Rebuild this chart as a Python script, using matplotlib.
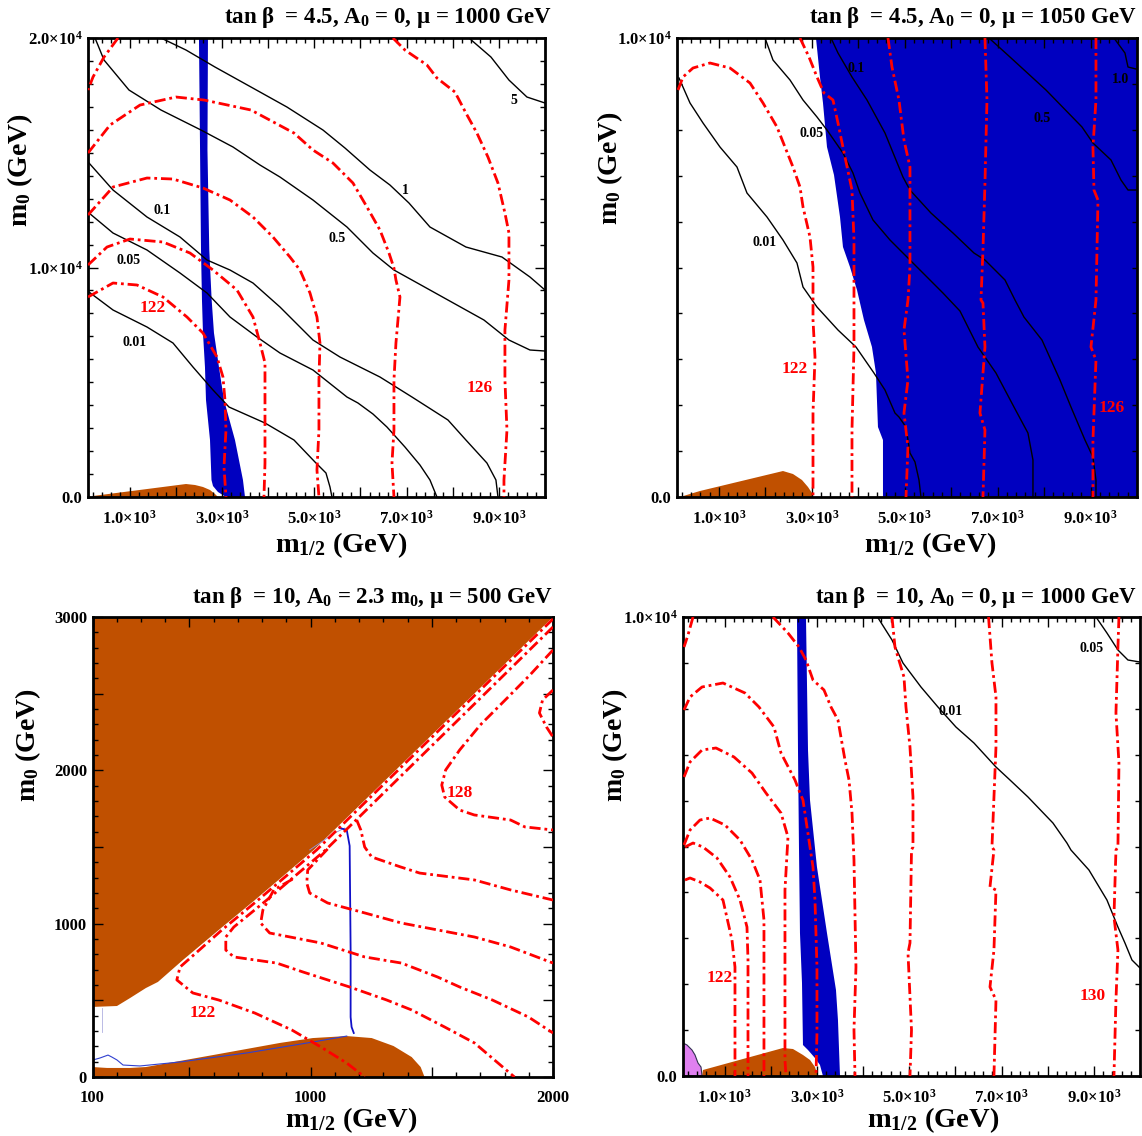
import matplotlib
matplotlib.use("Agg")
import matplotlib.pyplot as plt
import numpy as np

plt.rcParams['font.family'] = ['Liberation Serif', 'DejaVu Serif']
plt.rcParams['font.weight'] = 'bold'
plt.rcParams['mathtext.fontset'] = 'custom'
plt.rcParams['mathtext.rm'] = 'Liberation Serif:bold'
plt.rcParams['mathtext.it'] = 'Liberation Serif:bold'
plt.rcParams['mathtext.bf'] = 'Liberation Serif:bold'

BLUE = '#0000C0'
BROWN = '#C05000'
VIOLET = '#E080F0'
RED = '#FF0000'

# ---------------- Panel 1 : tan b = 4.5, A0 = 0, mu = 1000 GeV ----------------
p1_blue = [(2504, 20000), (2548, 10762), (2569, 8583), (2591, 7145), (2634, 5664), (2656, 4226),
           (2743, 2483), (2775, 741), (2808, 479), (2916, 218), (3089, 0), (3501, 0), (3457, 741),
           (3284, 2483), (3046, 4226), (2937, 5664), (2829, 7145), (2779, 8583), (2727, 10762),
           (2688, 15119), (2699, 20000)]
p1_brown = [(187, 0), (208, 44), (2223, 566), (2418, 523), (2591, 436), (2743, 305), (2851, 131), (2916, 0)]
p1_black = {
    '5': [(8353, 20000), (8829, 19171), (9219, 18168), (9609, 17428), (10000, 17167)],
    '1': [(1681, 20000), (2223, 19476), (2851, 18735), (3631, 17864), (4410, 16992), (5190, 15990),
          (5667, 15206), (6208, 14247), (6641, 13594), (7053, 12810), (7508, 11764), (8287, 10893),
          (9067, 10457), (9674, 9586), (10000, 9019)],
    '0.5': [(252, 20000), (447, 19040), (988, 17733), (1681, 16862), (2548, 15990), (3241, 15250),
            (3826, 14465), (4259, 13942), (4974, 12940), (5710, 11764), (6273, 10631), (6728, 9890),
            (7118, 9455), (7898, 8583), (8677, 7712), (9219, 6840), (9674, 6405), (10000, 6361)],
    '0.1': [(122, 14552), (642, 13376), (1378, 12200), (2093, 11328), (2678, 10326), (3176, 9890),
            (3674, 9324), (4259, 8278), (4974, 6840), (5558, 6100), (6425, 5228), (7118, 4357),
            (7898, 3355), (8287, 2483), (8742, 1481), (8937, 741), (8981, 0)],
    '0.05': [(122, 12374), (642, 11502), (1378, 10762), (2093, 9760), (2678, 8888), (3176, 7843),
             (3761, 6971), (4259, 6274), (4974, 5533), (5710, 4357), (5948, 4096), (6273, 3616),
             (6576, 3050), (6966, 2179), (7291, 1394), (7508, 741), (7659, 0)],
    '0.01': [(122, 8932), (642, 8148), (1378, 7407), (1941, 6710), (2374, 5664), (2808, 4662),
             (3154, 3921), (3934, 3224), (4562, 2483), (5017, 1525), (5255, 1046), (5342, 436), (5385, 0)],
}
p1_black_lab = {'5': (9327, 17297), '1': (6966, 13376), '0.5': (5493, 11285), '0.1': (1703, 12505),
                '0.05': (988, 10326), '0.01': (1118, 6753)}
p1_red = [
    [(750, 20000), (447, 19171), (208, 18299), (100, 17733)],
    [(100, 14988), (577, 16208), (1227, 17079), (2006, 17428), (2613, 17297), (3631, 16862), (4562, 15859),
     (4974, 15119), (5407, 14552), (5840, 13681), (6143, 12636), (6425, 11633), (6620, 10631), (6728, 9978),
     (6771, 9455), (6858, 8714), (6771, 6710), (6728, 5098), (6728, 2919), (6685, 1481), (6728, 0)],
    [(100, 12287), (642, 13507), (1378, 13899), (1941, 13855), (2591, 13463), (3176, 12940), (3674, 12200),
     (4107, 11328), (4475, 10457), (4692, 9890), (4909, 8888), (5060, 7843), (5125, 6710), (5103, 5098),
     (5103, 2919), (5060, 1176), (5103, 0)],
    [(100, 10108), (512, 10893), (1010, 11241), (1725, 11110), (2309, 10631), (2808, 9890), (3327, 9019),
     (3674, 7843), (3826, 6710), (3934, 5838), (3934, 3660), (3934, 1481), (3912, 0)],
    [(100, 8714), (642, 9324), (1161, 9237), (1725, 8714), (2244, 7843), (2591, 7145), (2894, 6100),
     (3024, 5228), (3067, 4226), (3089, 2919), (3046, 1307), (3089, 0)],
    [(6706, 20000), (6966, 19476), (7443, 18822), (7659, 18256), (8049, 17646), (8287, 16731), (8525, 15859),
     (8764, 14814), (8981, 13681), (9132, 12374), (9219, 11502), (9219, 9978), (9219, 9455), (9132, 7276),
     (9132, 5098), (9176, 2919), (9111, 741), (9111, 0)],
]
p1_red_lab = {'122': (1508, 8235), '126': (8591, 4749)}

# ---------------- Panel 2 : tan b = 4.5, A0 = 0, mu = 1050 GeV ----------------
p2_blue = [(3091, 10000), (3177, 9150), (3242, 8584), (3328, 7625), (3479, 7015), (3608, 6100), (3672, 5447),
           (3823, 5011), (3974, 4510), (4124, 3856), (4296, 3268), (4382, 2701), (4425, 1525), (4533, 1242),
           (4533, 0), (10000, 0), (10000, 10000)]
p2_brown = [(165, 0), (595, 131), (2381, 566), (2596, 501), (2790, 370), (2919, 218), (3005, 87), (3027, 0)]
p2_black = {
    '0.01': [(143, 9128), (380, 8584), (660, 8148), (1025, 7625), (1391, 7189), (1606, 6623), (2037, 6100),
             (2381, 5599), (2682, 5098), (2812, 4575), (3113, 4139), (3565, 3638), (3952, 3268), (4339, 2701),
             (4576, 2331), (4791, 1830), (4877, 1743), (5028, 1525), (5114, 959), (5222, 763), (5308, 370),
             (5351, 0)],
    '0.05': [(1994, 10000), (2166, 9520), (2532, 9085), (2812, 8649), (3113, 8279), (3328, 7995), (3672, 7494),
             (3887, 7059), (4038, 6623), (4318, 6035), (4684, 5599), (4963, 5316), (5394, 4880), (5824, 4444),
             (6190, 4052), (6577, 3268), (6965, 2701), (7352, 1961), (7653, 1394), (7761, 806), (7761, 0)],
    '0.1': [(3414, 10000), (3565, 9673), (3866, 9150), (4189, 8649), (4576, 7930), (4963, 6971), (5114, 6688),
            (5566, 6187), (6039, 5752), (6491, 5316), (6728, 5163), (7159, 4728), (7374, 4292), (7567, 3921),
            (7955, 3420), (8342, 2549), (8579, 1961), (8880, 1242), (9052, 871), (9117, 370), (9117, 0)],
    '0.5': [(6814, 10000), (7266, 9586), (8041, 8867), (8816, 8061), (9052, 7712), (9440, 7342), (9655, 6906),
            (9806, 6688), (10000, 6688)],
    '1.0': [(9504, 10000), (9741, 9673), (9806, 9368), (9978, 9325), (10000, 9325)],
}
p2_black_lab = {'0.1': (3952, 9325), '0.05': (3005, 7930), '0.01': (1994, 5534), '0.5': (7955, 8257),
                '1.0': (9655, 9085)}
p2_red = [
    [(122, 8867), (229, 9150), (444, 9346), (810, 9455), (1241, 9346), (1671, 9019), (1951, 8584), (2252, 8061),
     (2596, 7189), (2747, 6754), (2812, 6318), (2962, 5664), (3027, 5011), (3027, 3856), (3070, 3050),
     (3027, 1830), (3027, 523), (3027, 0)],
    [(2747, 10000), (2941, 9586), (3113, 9150), (3263, 8802), (3457, 8649), (3565, 8148), (3715, 7407),
     (3866, 6688), (3909, 5599), (3909, 4292), (3909, 3268), (3866, 1460), (3866, 0)],
    [(4641, 10000), (4727, 9368), (4877, 8649), (4985, 7778), (5114, 7189), (5114, 5011), (5071, 4292),
     (4985, 3638), (5071, 2549), (4985, 1830), (5071, 1089), (5028, 0)],
    [(6728, 10000), (6771, 8649), (6728, 6841), (6685, 5381), (6642, 4292), (6685, 4226), (6728, 3268),
     (6620, 1830), (6728, 1460), (6685, 0)],
    [(9117, 10000), (9117, 8649), (9052, 7625), (9074, 6688), (9160, 6470), (9117, 4292), (9009, 3268),
     (9117, 2985), (9052, 1242), (9052, 0)],
]
p2_red_lab = {'122': (2639, 2789), '126': (9461, 1939)}

# ---------------- Panel 3 : tan b = 10, A0 = 2.3 m0, mu = 500 GeV ----------------
p3_brown_top = [(100, 3000), (2000, 3000), (1013, 1481), (770, 1154), (621, 959), (473, 763), (370, 620),
                (320, 580), (255, 515), (201, 463), (100, 457)]
p3_brown_bot = [(100, 0), (100, 65), (160, 59), (255, 59), (320, 65), (597, 143), (873, 222), (1009, 254),
                (1149, 267), (1252, 254), (1342, 202), (1417, 130), (1454, 65), (1470, 0)]
p3_blue_line = [(1120, 1624), (1149, 1611), (1161, 1507), (1165, 828), (1165, 391), (1169, 326), (1178, 287)]
p3_lav_line = [(996, 1481), (1099, 1591), (1141, 1624)]
p3_blue_sq = [(102, 111), (131, 124), (164, 143), (180, 130), (201, 111), (226, 78), (296, 72), (461, 98),
              (737, 157), (1009, 228), (1149, 267)]
p3_faint = [(138, 450), (138, 293)]
p3_red = [
    [(2000, 2987), (1235, 1807), (1025, 1481), (783, 1154), (634, 959), (527, 809), (461, 717), (448, 633),
     (514, 548), (621, 502), (770, 417), (922, 307), (1042, 196), (1149, 91), (1223, 0)],
    [(2000, 2935), (1272, 1807), (1062, 1481), (819, 1154), (683, 978), (650, 913), (650, 828), (683, 783),
     (860, 743), (968, 685), (1161, 587), (1314, 502), (1417, 437), (1553, 326), (1676, 222), (1841, 0)],
    [(925, 1290), (848, 1220), (803, 1089), (794, 1004), (831, 939), (1042, 874), (1223, 783), (1375, 743),
     (1524, 652), (1615, 587), (1750, 502), (1899, 391), (2000, 287)],
    [(1070, 1487), (988, 1350), (984, 1265), (996, 1200), (1070, 1135), (1223, 1070), (1375, 1004),
     (1524, 959), (1676, 913), (1825, 848), (2000, 743)],
    [(1190, 1676), (1207, 1611), (1223, 1500), (1252, 1435), (1371, 1370), (1450, 1330), (1676, 1285),
     (1825, 1220), (2000, 1154)],
    [(2000, 2785), (1905, 2622), (1803, 2459), (1700, 2296), (1615, 2133), (1557, 2002), (1541, 1904),
     (1553, 1826), (1615, 1741), (1675, 1709), (1825, 1676), (1884, 1631), (2000, 1611)],
    [(2000, 2524), (1957, 2459), (1944, 2374), (1973, 2283), (2000, 2217)],
]
p3_red_lab = {'128': (1615, 1852), '122': (555, 417)}

# ---------------- Panel 4 : tan b = 10, A0 = 0, mu = 1000 GeV ----------------
p4_blue = [(2569, 10000), (2591, 7102), (2613, 4924), (2634, 3115), (2678, 2026), (2699, 675), (2808, 566),
           (2959, 392), (3067, 240), (3132, 0), (3501, 0), (3457, 1220), (3414, 1874), (3219, 3115),
           (3002, 4553), (2851, 6013), (2808, 7102), (2764, 10000)]
p4_brown = [(512, 0), (533, 131), (2266, 610), (2483, 588), (2699, 458), (2851, 349), (2959, 196), (3024, 0)]
p4_violet = [(100, 719), (187, 675), (295, 566), (360, 458), (425, 283), (490, 196), (512, 0), (100, 0)]
p4_black = {
    '0.01': [(4313, 10000), (4627, 9500), (4865, 8998), (5255, 8475), (5623, 8039), (6013, 7603),
             (6403, 7255), (6880, 6732), (7183, 6449), (7573, 6079), (8114, 5512), (8417, 5076), (8504, 4924),
             (8894, 4488), (9284, 3834), (9522, 3246), (9674, 2898), (9826, 2527), (10000, 2353)],
    '0.05': [(9046, 10000), (9284, 9651), (9522, 9281), (9739, 9063), (10000, 9019)],
}
p4_black_lab = {'0.01': (5905, 7952), '0.05': (8959, 9303)}
p4_red = [
    [(317, 10000), (208, 9607), (122, 9346)],
    [(2049, 10000), (2374, 9651), (2613, 9346), (2764, 9063), (2916, 8627), (3154, 8410), (3306, 8039),
     (3457, 7756), (3544, 7255), (3609, 6884), (3696, 6449), (3761, 5730), (3804, 4706), (3847, 2375),
     (3804, 1002), (3826, 0)],
    [(122, 7974), (252, 8257), (512, 8475), (966, 8562), (1443, 8344), (1746, 8039), (2071, 7603),
     (2223, 7037), (2526, 6449), (2634, 6165), (2699, 6013), (2916, 4553), (2959, 3834), (3002, 2375),
     (3002, 937), (2981, 0)],
    [(122, 6514), (252, 6841), (512, 7102), (815, 7146), (1205, 6950), (1594, 6601), (1898, 6165),
     (2223, 5730), (2374, 5207), (2309, 4052), (2309, 1939), (2309, 349), (2331, 0)],
    [(122, 5033), (252, 5359), (468, 5577), (685, 5621), (1010, 5468), (1335, 5141), (1594, 4706),
     (1768, 4270), (1854, 3399), (1854, 1656), (1854, 0)],
    [(143, 4989), (317, 5076), (533, 4989), (836, 4750), (1118, 4335), (1335, 3834), (1486, 3246),
     (1508, 2527), (1508, 0)],
    [(143, 4270), (252, 4314), (468, 4227), (685, 4096), (966, 3834), (1161, 2963), (1226, 2375), (1226, 0)],
    [(4627, 10000), (4692, 9346), (4887, 8693), (4930, 8039), (5017, 7168), (5082, 6079), (5082, 4989),
     (5050, 4924), (5017, 2898), (4974, 2680), (5050, 1002), (5017, 0)],
    [(6719, 10000), (6793, 8998), (6880, 8257), (6880, 7168), (6793, 4989), (6836, 4924), (6750, 4118),
     (6880, 4052), (6836, 2745), (6750, 1939), (6880, 1656), (6836, 0)],
    [(9544, 10000), (9522, 9346), (9479, 7908), (9544, 6819), (9522, 4989), (9479, 4924), (9436, 3464),
     (9522, 2745), (9479, 1656), (9436, 0)],
]
p4_red_lab = {'122': (901, 2135), '130': (8981, 1743)}

titles = [r'tan β  = 4.5, $\mathbf{A_0}$ = 0, μ = 1000 GeV',
          r'tan β  = 4.5, $\mathbf{A_0}$ = 0, μ = 1050 GeV',
          r'tan β  = 10, $\mathbf{A_0}$ = 2.3 $\mathbf{m_0}$, μ = 500 GeV',
          r'tan β  = 10, $\mathbf{A_0}$ = 0, μ = 1000 GeV']

big_xticks = [1000, 2000, 3000, 4000, 5000, 6000, 7000, 8000, 9000]
big_xlabels = [r'$1.0{\times}10^3$', '', r'$3.0{\times}10^3$', '', r'$5.0{\times}10^3$', '',
               r'$7.0{\times}10^3$', '', r'$9.0{\times}10^3$']

# ---------------- drawing ----------------
W, H = 1142, 1136
fig = plt.figure(figsize=(W / 100, H / 100), dpi=100)


def add_ax(l, r, t, b):
    return fig.add_axes([l / W, 1 - b / H, (r - l) / W, (b - t) / H])


ax1 = add_ax(88, 545, 38, 497)
ax2 = add_ax(677, 1137, 38, 497)
ax3 = add_ax(92.5, 553, 617, 1077)
ax4 = add_ax(683, 1140, 617, 1076)


def fill(ax, pts, color, **kw):
    xs, ys = zip(*pts)
    ax.fill(xs, ys, color=color, lw=0, zorder=1, **kw)


def line(ax, pts, **kw):
    xs, ys = zip(*pts)
    ax.plot(xs, ys, **kw)


def red_lines(ax, lines):
    for pts in lines:
        line(ax, pts, color=RED, lw=2.0, dashes=(4, 1.4, 1, 1.4), zorder=3, solid_capstyle='butt')


def black_lines(ax, d, labs):
    for k, pts in d.items():
        line(ax, pts, color='black', lw=1.0, zorder=2)
        x, y = labs[k]
        ax.text(x, y, k, fontsize=10, fontweight='bold', ha='center', va='center', zorder=5)


def red_labels(ax, labs):
    for k, (x, y) in labs.items():
        ax.text(x, y, k, fontsize=12.5, fontweight='bold', color=RED, ha='center', va='center', zorder=5)


def style(ax):
    for s in ax.spines.values():
        s.set_linewidth(2.0)
    ax.tick_params(which='both', direction='in', top=True, right=True, labelsize=12, width=1.0)
    ax.tick_params(which='major', length=7)
    ax.tick_params(which='minor', length=3.5)
    ax.tick_params(axis='x', which='both', pad=9)
    ax.tick_params(axis='y', which='both', pad=4)
    for lab in ax.get_xticklabels() + ax.get_yticklabels():
        lab.set_fontweight('bold')


# panel 1
fill(ax1, p1_blue, BLUE)
fill(ax1, p1_brown, BROWN)
black_lines(ax1, p1_black, p1_black_lab)
red_lines(ax1, p1_red)
red_labels(ax1, p1_red_lab)
ax1.set_xlim(100, 10000)
ax1.set_ylim(0, 20000)
ax1.set_yticks([0, 10000, 20000])
ax1.set_yticklabels(['0.0', r'$1.0{\times}10^4$', r'$2.0{\times}10^4$'])
ax1.set_yticks(np.arange(1000, 20000, 1000), minor=True)

# panel 2
fill(ax2, p2_blue, BLUE)
fill(ax2, p2_brown, BROWN)
black_lines(ax2, p2_black, p2_black_lab)
red_lines(ax2, p2_red)
red_labels(ax2, p2_red_lab)
ax2.set_xlim(100, 10000)
ax2.set_ylim(0, 10000)
ax2.set_yticks([0, 10000])
ax2.set_yticklabels(['0.0', r'$1.0{\times}10^4$'])
ax2.set_yticks(np.arange(1000, 10000, 1000), minor=True)

# panel 3
fill(ax3, p3_brown_top, BROWN)
fill(ax3, p3_brown_bot, BROWN)
line(ax3, p3_lav_line, color='#9090E0', lw=0.6, zorder=2)
line(ax3, p3_blue_sq, color='#3040D0', lw=0.8, zorder=2)
line(ax3, p3_faint, color='#B0B0E0', lw=0.6, zorder=2)
line(ax3, p3_blue_line, color='#1010C8', lw=1.3, zorder=2)
red_lines(ax3, p3_red)
red_labels(ax3, p3_red_lab)
ax3.set_xlim(100, 2000)
ax3.set_ylim(0, 3000)
ax3.set_xticks([100, 500, 1000, 1500, 2000])
ax3.set_xticklabels(['100', '', '1000', '', '2000'])
ax3.set_xticks(np.arange(200, 2000, 100), minor=True)
ax3.set_yticks([0, 500, 1000, 1500, 2000, 2500, 3000])
ax3.set_yticklabels(['0', '', '1000', '', '2000', '', '3000'])
ax3.set_yticks(np.arange(100, 3000, 100), minor=True)

# panel 4
fill(ax4, p4_blue, BLUE)
fill(ax4, p4_brown, BROWN)
xs, ys = zip(*p4_violet)
ax4.fill(xs, ys, facecolor=VIOLET, edgecolor='#303050', lw=0.8, zorder=1)
black_lines(ax4, p4_black, p4_black_lab)
red_lines(ax4, p4_red)
red_labels(ax4, p4_red_lab)
ax4.set_xlim(100, 10000)
ax4.set_ylim(0, 10000)
ax4.set_yticks([0, 10000])
ax4.set_yticklabels(['0.0', r'$1.0{\times}10^4$'])
ax4.set_yticks(np.arange(1000, 10000, 1000), minor=True)

for ax in (ax1, ax2, ax4):
    ax.set_xticks(big_xticks)
    ax.set_xticklabels(big_xlabels)
    ax.set_xticks(np.arange(200, 10000, 200), minor=True)

for ax in (ax1, ax2, ax3, ax4):
    style(ax)

# titles
for (xr, yc), t in zip([(552, 18), (1137, 18), (553, 598), (1137, 598)], titles):
    fig.text(xr / W, 1 - yc / H, t, ha='right', va='center', fontsize=16.5, fontweight='bold')

# axis labels
for (xc, yc) in [(20, 170), (610, 168), (28, 745), (615, 745)]:
    fig.text(xc / W, 1 - yc / H, r'$\mathbf{m_0}$ (GeV)', rotation=90, ha='center', va='center',
             fontsize=20, fontweight='bold')
for (xc, yc) in [(341, 545), (930, 545), (351, 1120), (933, 1120)]:
    fig.text(xc / W, 1 - yc / H, r'$\mathbf{m_{1/2}}$ (GeV)', ha='center', va='center',
             fontsize=20.5, fontweight='bold')

fig.savefig('out.png', dpi=100)
